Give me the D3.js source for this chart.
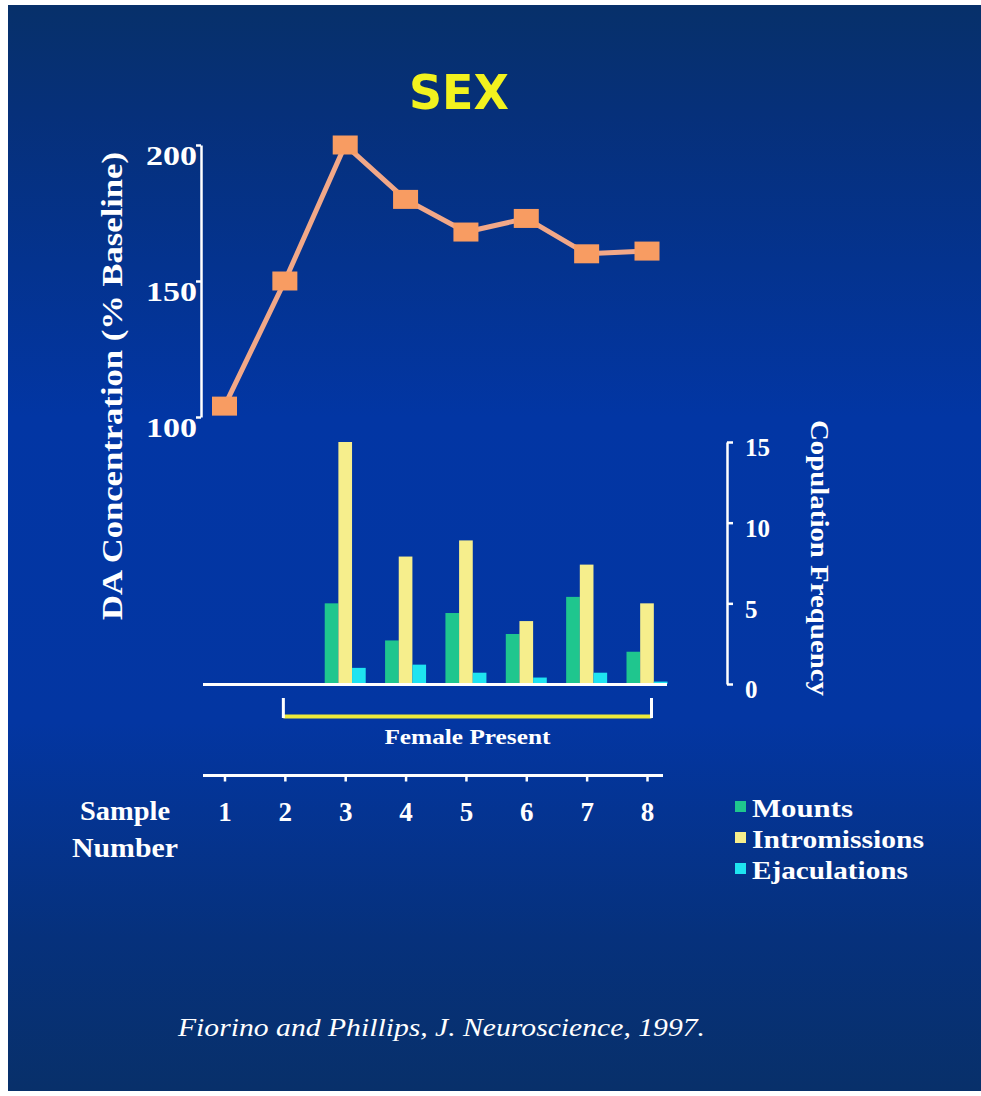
<!DOCTYPE html>
<html><head><meta charset="utf-8">
<script src="https://cdn.jsdelivr.net/npm/d3@7"></script>
<style>html,body{margin:0;padding:0;background:#fff;overflow:hidden}</style>
</head><body><svg id="c" width="981" height="1096"></svg>
<script>
// ---- data ----
const samples = [1, 2, 3, 4, 5, 6, 7, 8];
const daConcentration = [104, 150, 200, 180, 168, 173, 160, 161];
const mounts = [0, 0, 5.0, 2.7, 4.4, 3.1, 5.4, 2.0];
const intromissions = [0, 0, 15.0, 7.9, 8.9, 3.9, 7.4, 5.0];
const ejaculations = [0, 0, 1.0, 1.2, 0.7, 0.4, 0.7, 0.15];
const seriesNames = ["Mounts", "Intromissions", "Ejaculations"];
const seriesColors = ["#1fc68e", "#f6ee8c", "#1ee4f0"];
const leftTicks = [100, 150, 200];
const rightTicks = [0, 5, 10, 15];
const titleText = "SEX";
const leftLabel = "DA Concentration (% Baseline)";
const rightLabel = "Copulation Frequency";
const bracketLabel = "Female Present";
const bracketRange = [2, 8];
const citation = "Fiorino and Phillips, J. Neuroscience, 1997.";

const serif = "'Liberation Serif','Times New Roman',serif";
const svg = d3.select("#c");

// background
const defs = svg.append("defs");
const g = defs.append("linearGradient").attr("id", "bg").attr("x1", 0).attr("y1", 0).attr("x2", 0).attr("y2", 1);
[[0, "#07306a"], [0.1, "#06307a"], [0.38, "#0236a4"], [0.66, "#0336a2"], [0.86, "#06317c"], [1, "#08306a"]]
  .forEach(([o, c]) => g.append("stop").attr("offset", o).attr("stop-color", c));
svg.append("rect").attr("x", 8).attr("y", 5).attr("width", 973).attr("height", 1086).attr("fill", "url(#bg)");

// scales
const x = d3.scalePoint().domain(samples).range([224.5, 647]);
const yLine = d3.scaleLinear().domain([100, 200]).range([417, 145]);
const yBar = d3.scaleLinear().domain([0, 15]).range([684, 442]);
const inner = d3.scaleBand().domain(seriesNames).range([-20.5, 20.5]);
const color = d3.scaleOrdinal().domain(seriesNames).range(seriesColors);

// title
svg.append("text").attr("x", 459).attr("y", 109).attr("text-anchor", "middle")
  .attr("font-family", "'DejaVu Sans Condensed','Liberation Sans',Arial,sans-serif").attr("font-weight", "bold")
  .attr("font-size", 48).attr("fill", "#f2f21e").attr("textLength", 100).attr("lengthAdjust", "spacingAndGlyphs")
  .text(titleText);

// left axis
const la = svg.append("g").attr("transform", "translate(201,0)")
  .call(d3.axisLeft(yLine).tickValues(leftTicks).tickSize(5).tickSizeOuter(0));
la.select(".domain").attr("stroke", "#fff").attr("stroke-width", 2.5);
la.selectAll(".tick line").attr("stroke", "#fff").attr("stroke-width", 2.5);
la.selectAll(".tick text").attr("fill", "#fff").attr("font-family", serif).attr("font-weight", "bold")
  .attr("font-size", 27).attr("x", -4).attr("dy", "0.72em").attr("text-anchor", "end")
  .attr("textLength", 51).attr("lengthAdjust", "spacingAndGlyphs");

svg.append("text").attr("transform", "translate(122,386) rotate(-90)").attr("text-anchor", "middle")
  .attr("font-family", serif).attr("font-weight", "bold").attr("font-size", 30).attr("fill", "#fff")
  .attr("textLength", 468).attr("lengthAdjust", "spacingAndGlyphs").text(leftLabel);

// line + markers
const pts = samples.map((s, i) => [x(s), yLine(daConcentration[i])]);
svg.append("path").attr("d", d3.line()(pts)).attr("fill", "none").attr("stroke", "#f2a888").attr("stroke-width", 5);
svg.selectAll("rect.mk").data(pts).join("rect").attr("class", "mk")
  .attr("x", d => d[0] - 12.5).attr("y", d => d[1] - 9.5).attr("width", 25).attr("height", 19).attr("fill", "#f89c62");

// bars
const seriesData = [mounts, intromissions, ejaculations];
seriesNames.forEach((name, k) => {
  svg.selectAll("rect.b" + k).data(samples.map((s, i) => ({ s, v: seriesData[k][i] })).filter(d => d.v > 0))
    .join("rect").attr("class", "b" + k)
    .attr("x", d => x(d.s) + inner(name)).attr("width", inner.bandwidth())
    .attr("y", d => yBar(d.v)).attr("height", d => yBar(0) - yBar(d.v)).attr("fill", color(name));
});
// bar baseline
svg.append("line").attr("x1", 203).attr("x2", 667).attr("y1", 684.5).attr("y2", 684.5).attr("stroke", "#fff").attr("stroke-width", 3);

// right axis
const ra = svg.append("g").attr("transform", "translate(727,0)")
  .call(d3.axisRight(yBar).tickValues(rightTicks).tickSize(6).tickSizeOuter(0));
ra.select(".domain").attr("stroke", "#fff").attr("stroke-width", 2.5);
ra.selectAll(".tick line").attr("stroke", "#fff").attr("stroke-width", 2.5);
ra.selectAll(".tick text").attr("fill", "#fff").attr("font-family", serif).attr("font-weight", "bold")
  .attr("font-size", 25).attr("x", 18).attr("dy", "0.55em");

svg.append("text").attr("transform", "translate(811,558) rotate(90)").attr("text-anchor", "middle")
  .attr("font-family", serif).attr("font-weight", "bold").attr("font-size", 25).attr("fill", "#fff")
  .attr("textLength", 276).attr("lengthAdjust", "spacingAndGlyphs").text(rightLabel);

// female present bracket
const bx0 = x(bracketRange[0]) - 1.5, bx1 = x(bracketRange[1]) + 4.5;
svg.append("line").attr("x1", bx0).attr("x2", bx1).attr("y1", 716.5).attr("y2", 716.5).attr("stroke", "#eeea3a").attr("stroke-width", 4);
[bx0, bx1].forEach(xx => svg.append("line").attr("x1", xx).attr("x2", xx).attr("y1", 698).attr("y2", 718).attr("stroke", "#fff").attr("stroke-width", 3));
svg.append("text").attr("x", (bx0 + bx1) / 2).attr("y", 744).attr("text-anchor", "middle")
  .attr("font-family", serif).attr("font-weight", "bold").attr("font-size", 20).attr("fill", "#fff")
  .attr("textLength", 166).attr("lengthAdjust", "spacingAndGlyphs").text(bracketLabel);

// bottom sample axis
const ba = svg.append("g").attr("transform", "translate(0,775.5)")
  .call(d3.axisBottom(x).tickSize(6).tickSizeOuter(0));
ba.select(".domain").attr("d", "M203,0H663").attr("stroke", "#fff").attr("stroke-width", 3);
ba.selectAll(".tick line").attr("stroke", "#fff").attr("stroke-width", 2.5);
ba.selectAll(".tick text").attr("fill", "#fff").attr("font-family", serif).attr("font-weight", "bold")
  .attr("font-size", 27).attr("y", 45).attr("dy", 0);

svg.append("text").attr("x", 125).attr("y", 820).attr("text-anchor", "middle")
  .attr("font-family", serif).attr("font-weight", "bold").attr("font-size", 27).attr("fill", "#fff")
  .attr("textLength", 90).attr("lengthAdjust", "spacingAndGlyphs").text("Sample");
svg.append("text").attr("x", 125).attr("y", 857).attr("text-anchor", "middle")
  .attr("font-family", serif).attr("font-weight", "bold").attr("font-size", 27).attr("fill", "#fff")
  .attr("textLength", 106).attr("lengthAdjust", "spacingAndGlyphs").text("Number");

// legend
const legendW = [101, 172, 156];
const lg = svg.append("g").selectAll("g").data(seriesNames).join("g")
  .attr("transform", (d, i) => `translate(735,${801 + i * 31})`);
lg.append("rect").attr("width", 11).attr("height", 11).attr("fill", d => color(d));
lg.append("text").attr("x", 17).attr("y", 16).attr("font-family", serif).attr("font-weight", "bold")
  .attr("font-size", 25).attr("fill", "#fff")
  .attr("textLength", (d, i) => legendW[i]).attr("lengthAdjust", "spacingAndGlyphs").text(d => d);

// citation
svg.append("text").attr("x", 178).attr("y", 1036)
  .attr("font-family", serif).attr("font-style", "italic").attr("font-size", 26).attr("fill", "#fff")
  .attr("textLength", 527).attr("lengthAdjust", "spacingAndGlyphs").text(citation);
</script></body></html>
